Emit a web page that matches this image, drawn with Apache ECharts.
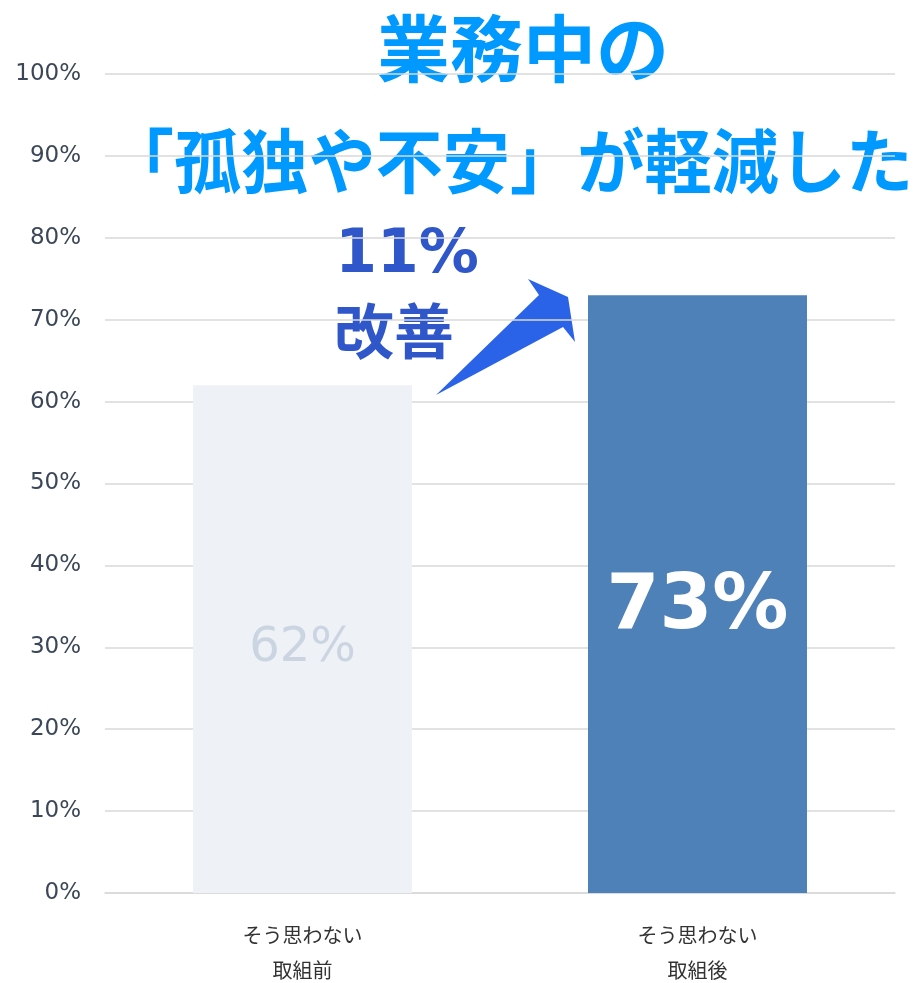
<!DOCTYPE html>
<html><head><meta charset="utf-8">
<script src="https://cdn.jsdelivr.net/npm/echarts@6/dist/echarts.min.js"></script>
<style>html,body{margin:0;padding:0;background:#fff;overflow:hidden;}#c{width:914px;height:983px;}</style>
</head><body><div id="c"></div>
<script>
const categories = ['そう思わない\n取組前', 'そう思わない\n取組後'];
const values = [62, 73];
const yTicks = [0, 10, 20, 30, 40, 50, 60, 70, 80, 90, 100];
const titleLine1 = '業務中の';
const titleLine2 = '「孤独や不安」が軽減した';
const noteLines = ['11%', '改善'];

const chart = echarts.init(document.getElementById('c'), null, { width: 914, height: 983 });
const cjk = '"Noto Sans CJK JP", "Noto Sans", sans-serif';
chart.setOption({
  animation: false,
  grid: { left: 105, width: 790, top: 74, height: 819, containLabel: false, outerBoundsMode: 'none' },
  xAxis: {
    type: 'category', data: categories,
    axisLine: { show: true, lineStyle: { color: '#d9d9d9', width: 1.5 } },
    axisTick: { show: false },
    axisLabel: { color: '#333333', fontSize: 20, lineHeight: 35, margin: 25, fontFamily: cjk }
  },
  yAxis: {
    type: 'value', min: 0, max: 100, interval: 10,
    axisLine: { show: false }, axisTick: { show: false },
    splitLine: { lineStyle: { color: '#d9d9d9', width: 1.5 } },
    axisLabel: { formatter: v => yTicks.includes(v) ? v + '%' : '', color: '#3b4758', fontSize: 23, margin: 24, fontFamily: 'DejaVu Sans' }
  },
  series: [{
    type: 'bar', barWidth: 219,
    data: values.map((v, i) => ({
      value: v,
      itemStyle: { color: i === 0 ? '#eef1f6' : '#4e81b8' },
      label: i === 0
        ? { show: true, position: 'inside', formatter: '{c}%', color: '#cbd5e2', fontSize: 48, fontFamily: 'DejaVu Sans', offset: [0, 9] }
        : { show: true, position: 'inside', formatter: '{c}%', color: '#ffffff', fontSize: 76, fontWeight: 'bold', fontFamily: 'DejaVu Sans', offset: [0, 14] }
    }))
  }],
  graphic: [
    { type: 'text', x: 523, y: 48, style: { text: titleLine1, fill: '#0099ff', font: 'bold 73px ' + cjk, align: 'center', verticalAlign: 'middle', stroke: '#ffffff', lineWidth: 3 } },
    { type: 'text', x: 510, y: 161, scaleX: 0.96, style: { text: titleLine2, fill: '#0099ff', font: 'bold 70px ' + cjk, align: 'center', verticalAlign: 'middle', stroke: '#ffffff', lineWidth: 3 } },
    { type: 'text', x: 407, y: 256, style: { text: noteLines[0], fill: '#2f57c9', font: 'bold 60px "DejaVu Sans"', align: 'center', verticalAlign: 'middle' } },
    { type: 'text', x: 394, y: 331, style: { text: noteLines[1], fill: '#2f57c9', font: 'bold 60px ' + cjk, align: 'center', verticalAlign: 'middle' } },
    { type: 'polygon', shape: { points: [[436, 395], [539, 295], [528, 279], [568, 297], [575, 342], [563, 327]] }, style: { fill: '#2b63e8' } }
  ]
});
</script></body></html>
